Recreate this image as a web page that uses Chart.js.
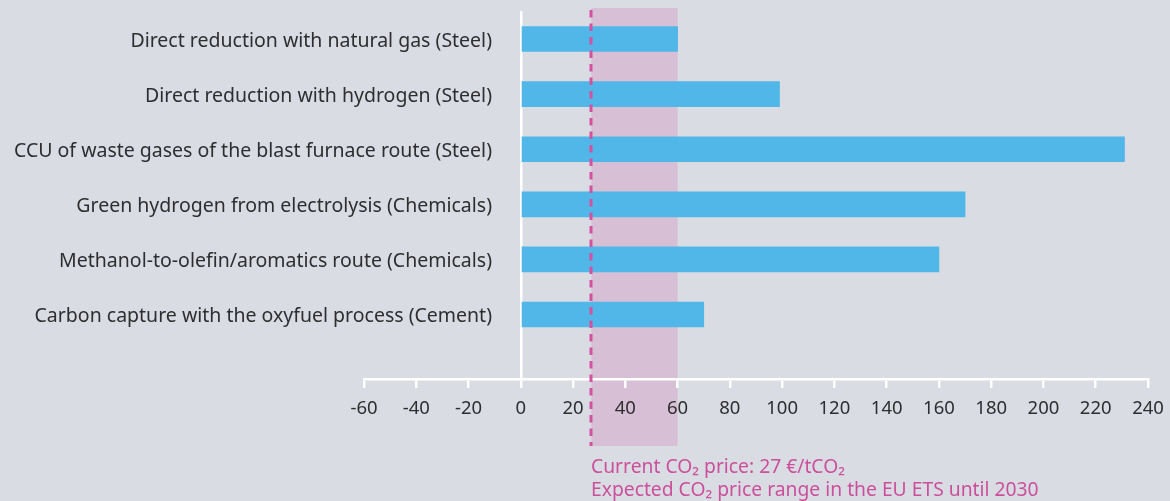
<!DOCTYPE html>
<html lang="en">
<head>
    <meta charset="UTF-8">
    <title>CO2 abatement costs</title>
    <script src="https://cdn.jsdelivr.net/npm/chart.js"></script>
    <style>
        html, body { margin: 0; padding: 0; background: #d9dce3; }
        #wrap { width: 1170px; height: 501px; }
    </style>
</head>
<body>
    <div id="wrap"><canvas id="costChart"></canvas></div>

    <script>
        // Data
        const categories = [
            "Direct reduction with natural gas (Steel)",
            "Direct reduction with hydrogen (Steel)",
            "CCU of waste gases of the blast furnace route (Steel)",
            "Green hydrogen from electrolysis (Chemicals)",
            "Methanol-to-olefin/aromatics route (Chemicals)",
            "Carbon capture with the oxyfuel process (Cement)"
        ];
        const costs = [60, 99, 231, 170, 160, 70];
        const xMin = -60, xMax = 240, xStep = 20;
        const currentPrice = 27;
        const rangeUpper = 60;
        const noteLines = [
            "Current CO\u2082 price: 27 \u20ac/tCO\u2082",
            "Expected CO\u2082 price range in the EU ETS until 2030"
        ];

        const FONT = "'Noto Sans', sans-serif";
        const LABEL_SIZE = 19.5;
        const MAGENTA = "#cc4f9b";

        // labels are right-aligned at x=492, inside the plot area (which starts at 364)
        const measure = document.createElement("canvas").getContext("2d");
        measure.font = LABEL_SIZE + "px " + FONT;
        const widest = Math.max(...categories.map(c => measure.measureText(c).width));
        const labelPad = 128 - widest;

        // pink band + dashed line + notes, positioned through the x scale
        const pricePlugin = {
            id: "pricePlugin",
            beforeDraw(chart) {
                const c = chart.ctx, x = chart.scales.x;
                const x1 = x.getPixelForValue(currentPrice);
                const x2 = x.getPixelForValue(rangeUpper);
                c.save();
                c.fillStyle = "#d7bfd5";
                c.fillRect(x1, 8, x2 - x1, 438);
                c.restore();
            },
            afterDatasetsDraw(chart) {
                const c = chart.ctx, x = chart.scales.x;
                const x1 = Math.round(x.getPixelForValue(currentPrice));
                c.save();
                c.strokeStyle = "#d352a0";
                c.lineWidth = 3;
                c.setLineDash([7.5, 6]);
                c.beginPath();
                c.moveTo(x1, 10);
                c.lineTo(x1, 446);
                c.stroke();
                c.setLineDash([]);
                c.fillStyle = MAGENTA;
                c.font = "19.3px " + FONT;
                c.textBaseline = "middle";
                c.textAlign = "left";
                noteLines.forEach((t, i) => c.fillText(t, x1, 468 + i * 23));
                c.restore();
            }
        };

        new Chart(document.getElementById("costChart"), {
            type: "bar",
            data: {
                datasets: [{
                    data: costs.map((v, i) => ({ x: v, y: i })),
                    backgroundColor: "#50b7e8",
                    borderWidth: 0,
                    barThickness: 25
                }]
            },
            options: {
                indexAxis: "y",
                responsive: true,
                maintainAspectRatio: false,
                animation: false,
                layout: { padding: { top: 11, right: 0, left: 0, bottom: 0 } },
                plugins: { legend: { display: false }, tooltip: { enabled: false } },
                scales: {
                    x: {
                        type: "linear",
                        min: xMin,
                        max: xMax,
                        afterFit(s) {
                            s.height = 122;
                            s.paddingLeft = 0;
                            s.paddingRight = 22;
                        },
                        ticks: {
                            stepSize: xStep,
                            maxRotation: 0,
                            color: "#2e2e30",
                            font: { family: FONT, size: 18.5 },
                            padding: 10
                        },
                        grid: {
                            color: ctx => (ctx.tick && ctx.tick.value === 0) ? "#ffffff" : "rgba(0,0,0,0)",
                            lineWidth: 2.5,
                            tickColor: "#ffffff",
                            tickLength: 9,
                            tickWidth: 2.5
                        },
                        border: { color: "#ffffff", width: 2.5 }
                    },
                    y: {
                        type: "linear",
                        reverse: true,
                        offset: false,
                        min: -0.508,
                        max: 6.17,
                        afterFit(s) { s.width = 364; },
                        ticks: {
                            stepSize: 1,
                            autoSkip: false,
                            mirror: true,
                            crossAlign: "far",
                            padding: labelPad,
                            labelOffset: 2,
                            color: "#2e2e30",
                            font: { family: FONT, size: LABEL_SIZE },
                            callback: v => Number.isInteger(v) && categories[v] ? categories[v] : ""
                        },
                        grid: { display: false, drawTicks: false, offset: false },
                        border: { display: false }
                    }
                }
            },
            plugins: [pricePlugin]
        });
    </script>
</body>
</html>
